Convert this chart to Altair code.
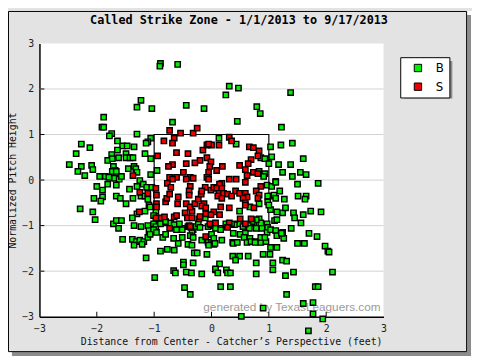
import altair as alt
import pandas as pd

# ---- data (feet) ----
b_pts = [
 [-0.89,2.56],[-0.90,2.50],[-0.59,2.54],[-1.23,1.75],[-1.30,1.60],[-1.04,1.57],[-0.44,1.64],[-0.13,1.57],
 [-1.88,1.38],[-1.91,1.16],[-1.88,1.16],[-0.68,1.27],[-1.74,1.02],[-1.78,0.97],[-1.30,1.01],[-1.06,0.92],
 [-1.11,0.84],[-1.14,0.81],[-2.27,0.79],[-2.12,0.71],[-1.64,0.86],[-1.55,0.75],[-1.47,0.75],[-1.35,0.73],
 [-1.64,0.66],[-2.36,0.58],[-1.74,0.56],[-1.49,0.58],[-1.16,0.58],[-1.62,0.49],[-1.49,0.49],[-1.42,0.49],
 [-1.37,0.49],[-1.81,0.43],[-1.73,0.47],[-1.06,0.47],[-2.48,0.34],[-2.27,0.30],[-2.33,0.19],[-2.09,0.32],
 [-2.07,0.23],[-2.21,0.10],[-1.95,0.08],[-1.71,0.30],[-1.68,0.21],[-1.73,0.19],[-1.66,0.19],[-1.85,0.08],
 [-1.79,0.06],[-1.69,0.04],[-1.61,0.02],[-1.57,0.08],[-1.45,0.25],[-1.35,0.30],[-1.32,0.25],[-1.30,0.17],
 [-0.95,0.21],[-1.06,0.12],[-1.25,-0.01],[-1.19,-0.09],[-2.00,-0.14],[-1.81,-0.09],[-1.66,-0.11],[-1.90,-0.22],
 [-1.43,-0.20],[-1.30,-0.14],[-1.13,-0.16],[-1.04,-0.16],
 [0.31,2.06],[0.47,2.02],[0.25,1.87],[1.38,1.92],[0.79,1.61],[0.85,1.46],[0.45,1.29],[1.22,1.16],
 [0.13,0.92],[0.43,0.79],[1.03,0.73],[1.21,0.77],[1.41,0.81],[0.86,0.49],[0.93,0.47],[1.05,0.51],
 [1.00,0.36],[1.17,0.34],[1.38,0.34],[1.60,0.47],[1.24,0.17],[1.55,0.17],[1.65,0.12],[0.83,0.19],
 [0.93,0.14],[0.91,0.08],[1.41,0.08],[1.12,-0.03],[1.50,-0.09],[1.86,-0.07],[0.97,-0.11],[1.05,-0.14],
 [1.19,-0.24],
 [-2.05,-0.40],[-1.90,-0.37],[-1.93,-0.46],[-1.66,-0.35],[-1.59,-0.40],[-1.49,-0.52],[-2.29,-0.63],[-2.07,-0.70],
 [-2.03,-0.87],[-1.37,-0.40],[-1.23,-0.35],[-1.16,-0.35],[-1.11,-0.42],[-1.09,-0.55],[-1.30,-0.74],[-1.16,-0.68],
 [-1.07,-0.59],[-0.97,-0.68],[-1.01,-0.78],[-0.94,-0.85],[-1.71,-0.96],[-1.66,-0.89],[-1.57,-0.89],[-1.62,-1.06],
 [-1.35,-1.00],[-1.23,-1.02],[-1.11,-1.00],[-1.09,-1.11],[-1.01,-0.96],[-0.97,-1.02],[-0.89,-0.96],[-0.80,-0.91],
 [-0.71,-0.94],[-0.65,-0.98],[-0.56,-0.96],[-0.51,-1.09],[-0.41,-1.02],[-0.32,-1.09],[-0.27,-1.02],[-1.55,-1.30],
 [-1.38,-1.30],[-1.31,-1.35],[-1.35,-1.43],[-1.25,-1.32],[-1.18,-1.35],[-1.21,-1.41],[-1.11,-1.26],[-0.85,-1.26],
 [-0.80,-1.19],[-0.66,-1.28],[-0.51,-1.26],[-0.58,-1.39],[-0.41,-1.41],[-0.34,-1.43],[-0.34,-1.15],[-0.37,-1.22],
 [-0.32,-1.26],[-0.17,-1.32],[-0.06,-1.37],[0.00,-1.37],[0.04,-1.41],[-0.89,-1.56],[-0.77,-1.52],[-0.65,-1.54],
 [-1.14,-1.71],[-0.30,-1.60],[-0.25,-1.60],[-0.08,-1.63],[-0.32,-1.82],[-0.49,-1.80],[-0.49,-1.86],[-0.66,-1.99],
 [-0.63,-2.04],[-0.44,-2.02],[-0.35,-2.04],[-0.17,-2.06],[0.07,-1.97],[-0.99,-2.14],[-0.47,-2.36],[-0.37,-2.51],
 [-1.38,-0.83],[-1.01,-1.09],[-0.96,-1.15],[-1.07,-1.19],[-0.39,-1.00],[-0.36,-1.04],[-0.23,-0.96],[-0.20,-1.04],
 [-0.06,-1.02],[0.04,-1.00],[-0.11,-0.83],[-0.61,-1.09],
 [1.12,-0.05],[1.02,-0.35],[1.09,-0.33],[1.12,-0.40],[0.98,-0.35],[1.27,-0.42],[1.51,-0.35],[1.65,-0.35],
 [1.63,-0.42],[0.98,-0.48],[1.03,-0.65],[1.00,-0.55],[0.83,-0.52],[0.67,-0.59],[1.14,-0.70],[1.24,-0.72],
 [1.29,-0.61],[1.43,-0.72],[1.45,-0.83],[1.60,-0.76],[1.73,-0.68],[1.91,-0.70],[0.49,-0.68],[1.10,-0.89],
 [1.14,-0.87],[0.97,-0.96],[0.83,-0.85],[0.86,-0.94],[1.56,-0.94],[0.74,-0.94],[0.78,-0.87],[0.71,-0.91],
 [0.47,-0.96],[0.40,-0.98],[0.55,-1.02],[0.64,-1.00],[0.66,-1.06],[0.78,-1.06],[-0.01,-0.98],[0.07,-1.06],
 [0.16,-1.09],[0.28,-1.02],[0.25,-0.96],[0.35,-0.96],[0.88,-1.06],[0.98,-1.04],[0.97,-1.15],[1.03,-1.09],
 [1.12,-1.11],[1.39,-1.06],[1.24,-1.15],[1.14,-1.22],[1.26,-1.28],[1.22,-1.17],[1.70,-1.17],[1.84,-1.24],
 [1.50,-1.39],[1.62,-1.39],[1.98,-1.45],[2.03,-1.56],[2.05,-1.58],[0.00,-1.19],[0.04,-1.28],[0.18,-1.32],
 [0.06,-1.39],[-0.05,-1.43],[0.38,-1.17],[0.50,-1.19],[0.59,-1.17],[0.57,-1.26],[0.67,-1.28],[0.78,-1.35],
 [0.37,-1.37],[0.38,-1.39],[0.45,-1.37],[0.62,-1.37],[0.69,-1.35],[0.76,-1.37],[0.86,-1.37],[0.95,-1.35],
 [0.86,-1.26],[0.93,-1.26],[1.03,-1.48],[1.14,-1.48],[0.90,-1.63],[1.02,-1.63],[0.37,-1.67],[0.49,-1.67],
 [0.64,-1.67],[0.42,-1.76],[0.78,-1.82],[1.24,-1.76],[1.31,-1.78],[0.14,-1.84],[1.07,-1.82],[1.07,-1.97],
 [0.07,-1.95],[0.11,-2.04],[0.26,-1.97],[0.28,-2.04],[0.33,-2.04],[0.78,-2.06],[1.43,-2.02],[1.29,-2.10],
 [2.11,-2.02],[0.16,-2.34],[0.33,-2.34],[1.81,-2.34],[1.86,-2.34],[1.31,-2.51],[1.60,-2.71],[1.77,-2.69],
 [0.90,-2.81],[1.77,-2.94],[0.52,-2.99],[1.94,-3.05],[1.69,-3.31],
]

s_pts = [
 [-0.73,1.09],[-0.54,1.03],[-0.32,1.03],[-0.25,1.14],[-0.65,0.92],[-0.83,0.86],[-0.68,0.81],[-0.94,0.53],
 [-0.61,0.60],[-0.41,0.58],[-0.15,0.66],[-0.08,0.77],[0.00,0.77],[-0.05,0.79],[-0.08,0.49],[-0.01,0.40],
 [-0.20,0.43],[-0.29,0.38],[-0.44,0.36],[-0.68,0.34],[-0.75,0.30],[-0.03,0.30],[-0.49,0.17],[-0.05,0.17],
 [-0.73,0.06],[-0.61,0.06],[-0.68,0.02],[-0.37,0.06],[-0.32,0.04],[-0.44,0.02],[-0.08,0.06],[-0.05,0.02],
 [-0.77,-0.07],[-0.37,-0.14],[-0.71,-0.16],[-0.11,-0.16],[-0.97,-0.18],[-1.37,0.10],
 [0.31,0.94],[0.35,0.86],[0.13,0.77],[0.66,0.73],[0.73,0.71],[0.83,0.64],[0.81,0.53],[0.69,0.45],
 [0.64,0.36],[0.49,0.32],[0.19,0.30],[0.09,0.21],[0.59,0.23],[0.62,0.10],[0.73,0.17],[0.81,0.14],
 [0.31,0.02],[0.43,0.02],[0.59,-0.05],[0.18,-0.07],[0.14,-0.09],[0.86,-0.14],
 [-1.26,-0.70],[-1.25,-0.27],[-1.11,-0.29],[-0.96,-0.33],[-0.96,-0.52],[-0.96,-0.59],[-0.80,-0.48],[-0.78,-0.40],
 [-0.73,-0.31],[-0.58,-0.37],[-0.59,-0.52],[-0.39,-0.24],[-0.39,-0.33],[-0.44,-0.52],[-0.46,-0.72],[-0.34,-0.68],
 [-0.37,-0.59],[-0.29,-0.52],[-0.23,-0.42],[-0.18,-0.31],[-0.17,-0.24],[-0.13,-0.52],[-0.01,-0.22],[0.04,-0.16],
 [-0.90,-0.83],[-0.82,-0.81],[-0.65,-0.81],[-0.61,-0.78],[-0.22,-0.85],[0.04,-0.70],[-0.73,-1.06],[-0.37,-1.02],
 [-0.10,-1.24],[-0.03,-0.96],[-0.97,-0.83],[-0.42,-0.83],[-0.34,-0.83],[-0.20,-0.80],[-0.10,-0.74],[-0.17,-0.57],
 [-0.10,-0.61],
 [0.09,-0.18],[0.18,-0.18],[0.42,-0.24],[0.49,-0.29],[0.59,-0.29],[0.62,-0.37],[0.55,-0.40],[0.13,-0.29],
 [0.11,-0.35],[0.21,-0.29],[0.28,-0.31],[0.35,-0.35],[0.18,-0.40],[0.78,-0.24],[0.83,-0.33],[0.81,-0.40],
 [0.59,-0.50],[0.59,-0.55],[0.74,-0.61],[0.31,-0.61],[0.16,-0.59],[0.14,-0.76],[-0.01,-0.76],[0.69,-0.85],
 [0.31,-0.94],[0.59,-0.96],[0.07,-0.94],[0.28,-1.04],[0.50,-0.85],
]

calls = ["B", "S"]
call_colors = ["#00ee00", "#ee0000"]
axis_ticks = [-3, -2, -1, 0, 1, 2, 3]
inner_ticks = [-2, -1, 0, 1, 2]
zone = [{"x": -1, "x2": 1, "y": -1, "y2": 1}]

W, H = 350, 278
MONO = "DejaVu Sans Mono"
TITLE = "Called Strike Zone - 1/1/2013 to 9/17/2013"
X_TITLE = "Distance from Center - Catcher\u2019s Perspective (feet)"
Y_TITLE = "Normalized Pitch Height"

rows = [{"px": p[0], "pz": p[1], "call": "B"} for p in b_pts] + \
       [{"px": p[0], "pz": p[1], "call": "S"} for p in s_pts]
df = pd.DataFrame(rows)
ticks_df = pd.DataFrame({"v": inner_ticks})

xs = alt.Scale(domain=[-3, 3], nice=False, zero=False)
ys = alt.Scale(domain=[-3, 3], nice=False, zero=False)
x_axis = alt.Axis(values=axis_ticks, grid=False, ticks=False, labelFlush=False,
                  domainColor="black", domainWidth=1.5, labelPadding=7,
                  titlePadding=3, titleX=195)
y_axis = alt.Axis(values=axis_ticks, grid=False, ticks=False, labelFlush=False,
                  domainColor="black", domainWidth=1.5, labelPadding=6,
                  titlePadding=4)


def X(field):
    return alt.X(field, scale=xs, title=X_TITLE, axis=x_axis)


def Y(field):
    return alt.Y(field, scale=ys, title=Y_TITLE, axis=y_axis)


one = alt.Data(values=[{}])

# outer frame decorations (page white + drop shadow + border)
page_r = alt.Chart(one).mark_rect(fill="white").encode(
    x=alt.value(435), x2=alt.value(442), y=alt.value(-33), y2=alt.value(322))
page_b = alt.Chart(one).mark_rect(fill="white").encode(
    x=alt.value(-33), x2=alt.value(442), y=alt.value(314), y2=alt.value(322))
shadow_r = alt.Chart(one).mark_rect(fill="#8c8c8c").encode(
    x=alt.value(435), x2=alt.value(439), y=alt.value(-29), y2=alt.value(318))
shadow_b = alt.Chart(one).mark_rect(fill="#8c8c8c").encode(
    x=alt.value(-28), x2=alt.value(439), y=alt.value(314), y2=alt.value(318))
border = alt.Chart(one).mark_rect(filled=False, stroke="black", strokeWidth=1).encode(
    x=alt.value(-31.5), x2=alt.value(434.5), y=alt.value(-32.5), y2=alt.value(313.5))

title_text = alt.Chart(one).mark_text(
    text=TITLE, align="center", baseline="middle", font=MONO, fontSize=12,
    fontWeight="bold", color="black").encode(x=alt.value(203), y=alt.value(-24))

points = alt.Chart(df).mark_square(
    size=30, stroke="black", strokeWidth=1.4, opacity=1, fillOpacity=1).encode(
    x=X("px:Q"),
    y=Y("pz:Q"),
    color=alt.Color("call:N", scale=alt.Scale(domain=calls, range=call_colors),
                    legend=alt.Legend(title=None, orient="none", legendX=367, legendY=14,
                                      fillColor="white", strokeColor="black", padding=5,
                                      symbolType="square", symbolSize=56,
                                      symbolStrokeColor="black", symbolStrokeWidth=1,
                                      symbolOffset=7, labelOffset=12,
                                      labelFont="DejaVu Sans", labelFontSize=12,
                                      labelColor="black", rowPadding=7)),
    order=alt.Order("call:N"),
)

grid = alt.Chart(ticks_df).mark_rule(color="#d2d2d2", strokeWidth=1).encode(
    y=Y("v:Q"), x=alt.value(0), x2=alt.value(W))
yt = alt.Chart(ticks_df).mark_rule(color="black", strokeWidth=1).encode(
    y=Y("v:Q"), x=alt.value(0), x2=alt.value(5))
xt = alt.Chart(ticks_df).mark_rule(color="black", strokeWidth=1).encode(
    x=X("v:Q"), y=alt.value(H), y2=alt.value(H - 5))

zone_rect = alt.Chart(alt.Data(values=zone)).mark_rect(
    filled=False, stroke="black", strokeWidth=1.2).encode(
    x=X("x:Q"), x2="x2:Q", y=Y("y:Q"), y2="y2:Q")

watermark = alt.Chart(one).mark_text(
    text="generated by TexasLeaguers.com", align="right", baseline="middle",
    font="Liberation Sans", fontSize=12, color="#9a9a9a").encode(
    x=alt.value(347), y=alt.value(268))

leg_shadow = alt.Chart(one).mark_rect(fill="#8c8c8c").encode(
    x=alt.value(371), x2=alt.value(420), y=alt.value(18), y2=alt.value(56))

chart = alt.layer(
    points.mark_square(opacity=0, size=1),
    page_r, page_b, shadow_r, shadow_b, border, title_text,
    grid, zone_rect, watermark, leg_shadow, points, yt, xt,
).properties(
    width=W, height=H,
    autosize=alt.AutoSizeParams(type="none"),
    padding={"left": 32, "top": 33, "right": 90, "bottom": 41},
    background="#e3e3e3",
).configure_view(fill="white", stroke=None).configure_axis(
    labelFont=MONO, labelFontSize=10, labelColor="#222",
    titleFont=MONO, titleFontSize=10, titleFontWeight="normal", titleColor="#111",
)

chart.save("out.html", embed_options={"renderer": "svg", "actions": False})
